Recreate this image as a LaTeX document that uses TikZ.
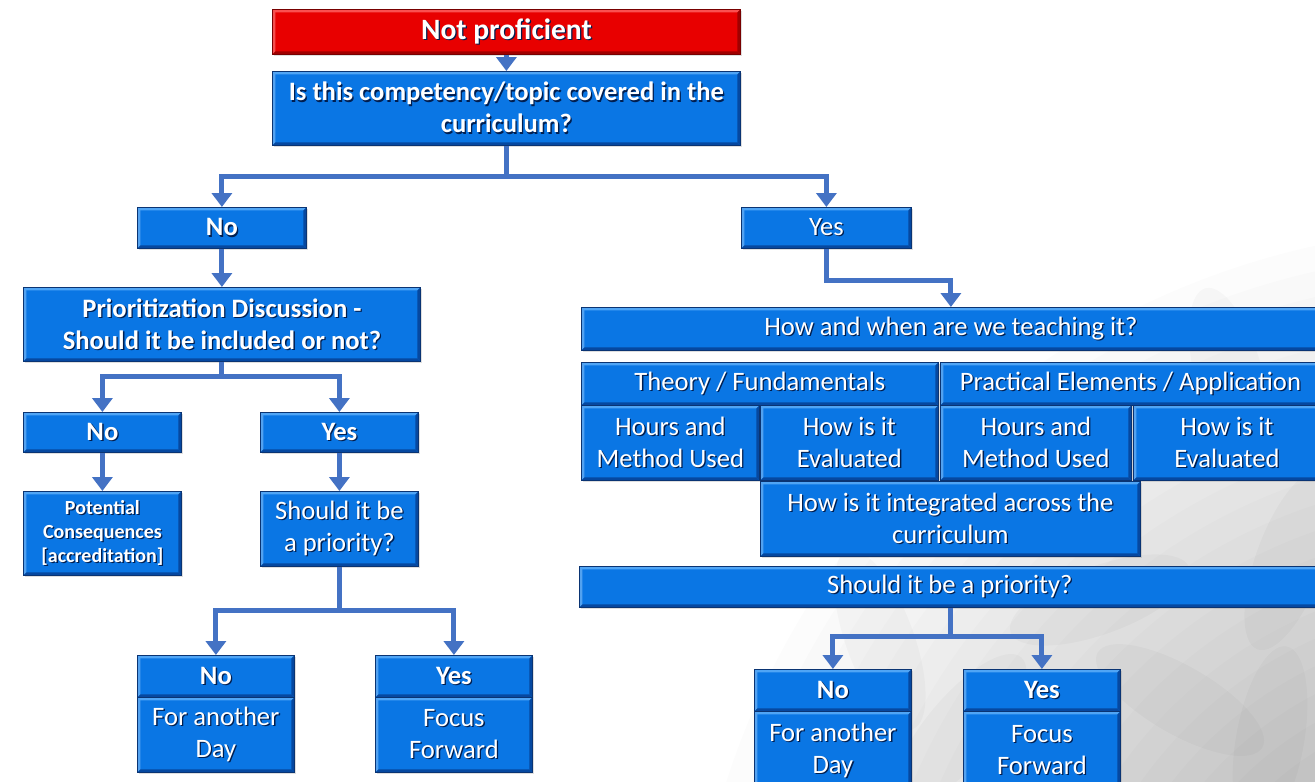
\documentclass[tikz,border=0pt]{standalone}
\usepackage{fontspec}
\setmainfont{Carlito}
\usetikzlibrary{arrows.meta,shadows}

\definecolor{boxblue}{RGB}{10,118,228}
\definecolor{bluehi}{RGB}{80,165,245}
\definecolor{bluelo}{RGB}{6,72,160}
\definecolor{boxedge}{RGB}{10,52,115}
\definecolor{boxred}{RGB}{232,0,0}
\definecolor{redhi}{RGB}{250,80,80}
\definecolor{redlo}{RGB}{160,0,0}
\definecolor{rededge}{RGB}{120,0,0}
\definecolor{arrowblue}{RGB}{68,114,196}
\definecolor{tshadow}{RGB}{0,30,80}

% white text with a small dark offset copy underneath
\newcommand\ts[1]{\leavevmode\rlap{\kern1.3pt\raisebox{-1.3pt}{\color{tshadow}#1}}#1}

\tikzset{
  bevel/.style={path picture={
    \fill[#1hi] (path picture bounding box.north west) -- (path picture bounding box.north east)
      -- ([xshift=-3pt,yshift=-3pt]path picture bounding box.north east)
      -- ([xshift=3pt,yshift=-3pt]path picture bounding box.north west) -- cycle;
    \fill[#1hi!70!white,opacity=0.6] (path picture bounding box.north west) -- (path picture bounding box.south west)
      -- ([xshift=3pt,yshift=3pt]path picture bounding box.south west)
      -- ([xshift=3pt,yshift=-3pt]path picture bounding box.north west) -- cycle;
    \fill[#1lo] (path picture bounding box.south west) -- (path picture bounding box.south east)
      -- ([xshift=-3pt,yshift=3pt]path picture bounding box.south east)
      -- ([xshift=3pt,yshift=3pt]path picture bounding box.south west) -- cycle;
    \fill[#1lo] (path picture bounding box.north east) -- (path picture bounding box.south east)
      -- ([xshift=-3pt,yshift=3pt]path picture bounding box.south east)
      -- ([xshift=-3pt,yshift=-3pt]path picture bounding box.north east) -- cycle;
  }},
  basebox/.style={draw=boxedge, line width=0.8pt, fill=boxblue, text=white,
    align=center, inner sep=0pt, anchor=north west, bevel=blue,
    drop shadow={shadow xshift=1.5pt, shadow yshift=-1.5pt, opacity=0.25}},
  bluebold/.style={basebox, font=\bfseries\fontsize{26.6}{32}\selectfont},
  bluereg/.style={basebox, font=\fontsize{26.6}{32}\selectfont},
  smallbold/.style={basebox, font=\bfseries\fontsize{20}{24}\selectfont},
  redbox/.style={basebox, draw=rededge, fill=boxred, bevel=red,
    font=\bfseries\fontsize{29.5}{32}\selectfont},
  line/.style={draw=arrowblue, line width=5pt},
  arr/.style={line, -{Triangle[width=20pt,length=14pt]}},
  haze/.style={fill=black, opacity=0.012},
  petal/.style={fill=black, opacity=0.022}
}

\begin{document}
\begin{tikzpicture}[x=1pt,y=-1pt]
\useasboundingbox (0,0) rectangle (1315,782);
\clip (0,0) rectangle (1315,782);

% background: white page darkening softly towards the lower right corner
\fill[white] (0,0) rectangle (1315,782);
\foreach \r in {800,775,...,300}
  \fill[haze] (1488,1027) circle (\r);
\foreach \cx/\cy/\a in {1010/470/30, 1290/560/-20, 1180/700/60, 960/730/-40,
                         1230/380/15, 1100/600/-70, 880/640/20, 1270/740/-10}
  \fill[petal, rotate around={\a:(\cx,\cy)}] (\cx,\cy) ellipse (34 and 95);

% ---- top ----
\node[redbox, minimum width=468pt, minimum height=45pt] (np) at (272,9) {\ts{Not proficient}};
\node[bluebold, minimum width=468pt, minimum height=74pt] (q1) at (272,71)
  {\ts{Is this competency/topic covered in the}\\\ts{curriculum?}};

% ---- left branch ----
\node[bluebold, minimum width=169pt, minimum height=41pt] (no1) at (137,207) {\ts{No}};
\node[bluebold, minimum width=397pt, minimum height=74pt] (prio) at (23,287)
  {\ts{Prioritization Discussion -}\\\ts{Should it be included or not?}};
\node[bluebold, minimum width=158pt, minimum height=40pt] (no2) at (23,412) {\ts{No}};
\node[bluebold, minimum width=158pt, minimum height=40pt] (yes2) at (260,412) {\ts{Yes}};
\node[smallbold, minimum width=158pt, minimum height=84pt] (cons) at (23,491)
  {\ts{Potential}\\\ts{Consequences}\\\ts{[accreditation]}};
\node[bluereg, minimum width=158pt, minimum height=75pt] (pri2) at (260,491)
  {\ts{Should it be}\\\ts{a priority?}};
\node[bluebold, minimum width=157pt, minimum height=42pt] (no3) at (137,655) {\ts{No}};
\node[bluebold, minimum width=157pt, minimum height=42pt] (yes3) at (375,655) {\ts{Yes}};
\node[bluereg, minimum width=157pt, minimum height=75pt] (day3) at (137,697)
  {\ts{For another}\\\ts{Day}};
\node[bluereg, minimum width=157pt, minimum height=75pt] (fwd3) at (375,697)
  {\ts{Focus}\\\ts{Forward}};

% ---- right branch ----
\node[bluereg, minimum width=170pt, minimum height=41pt] (yes1) at (741,207) {\ts{Yes}};
\node[bluereg, minimum width=739pt, minimum height=43pt] (how) at (581,307)
  {\ts{How and when are we teaching it?}};
\node[bluereg, minimum width=357pt, minimum height=43pt] (theory) at (581,362)
  {\ts{Theory / Fundamentals}};
\node[bluereg, minimum width=380pt, minimum height=43pt] (pract) at (940,362)
  {\ts{Practical Elements / Application}};
\node[bluereg, minimum width=178pt, minimum height=75pt] (hm1) at (581,405)
  {\ts{Hours and}\\\ts{Method Used}};
\node[bluereg, minimum width=178pt, minimum height=75pt] (ev1) at (760,405)
  {\ts{How is it}\\\ts{Evaluated}};
\node[bluereg, minimum width=191pt, minimum height=75pt] (hm2) at (940,405)
  {\ts{Hours and}\\\ts{Method Used}};
\node[bluereg, minimum width=187pt, minimum height=75pt] (ev2) at (1133,405)
  {\ts{How is it}\\\ts{Evaluated}};
\node[bluereg, minimum width=380pt, minimum height=75pt] (integ) at (760,481)
  {\ts{How is it integrated across the}\\\ts{curriculum}};
\node[bluereg, minimum width=741pt, minimum height=41pt] (pri3) at (579,566)
  {\ts{Should it be a priority?}};
\node[bluebold, minimum width=157pt, minimum height=42pt] (no4) at (754,669) {\ts{No}};
\node[bluebold, minimum width=157pt, minimum height=42pt] (yes4) at (963,669) {\ts{Yes}};
\node[bluereg, minimum width=157pt, minimum height=79pt] (day4) at (754,711)
  {\ts{For another}\\\ts{Day}};
\node[bluereg, minimum width=157pt, minimum height=79pt] (fwd4) at (963,711)
  {\ts{Focus}\\\ts{Forward}};

% ---- connectors ----
\draw[arr] (np.south) -- (q1.north);

\coordinate (j1) at (q1.south |- 0,176);
\draw[line] (q1.south) -- (j1);
\draw[arr] (j1) -| (no1.north);
\draw[arr] (j1) -| (yes1.north);

\draw[arr] (no1.south) -- (prio.north);
\draw[arr] (yes1.south) -- ++(0,32) -| (how.north);

\coordinate (j2) at (prio.south |- 0,376);
\draw[line] (prio.south) -- (j2);
\draw[arr] (j2) -| (no2.north);
\draw[arr] (j2) -| (yes2.north);

\draw[arr] (no2.south) -- (cons.north);
\draw[arr] (yes2.south) -- (pri2.north);

\coordinate (j3) at (pri2.south |- 0,610);
\draw[line] (pri2.south) -- (j3);
\draw[arr] (j3) -| (no3.north);
\draw[arr] (j3) -| (yes3.north);

\coordinate (j4) at (950,636);
\draw[line] (pri3.south -| j4) -- (j4);
\draw[arr] (j4) -| (no4.north);
\draw[arr] (j4) -| (yes4.north);
\end{tikzpicture}
\end{document}
